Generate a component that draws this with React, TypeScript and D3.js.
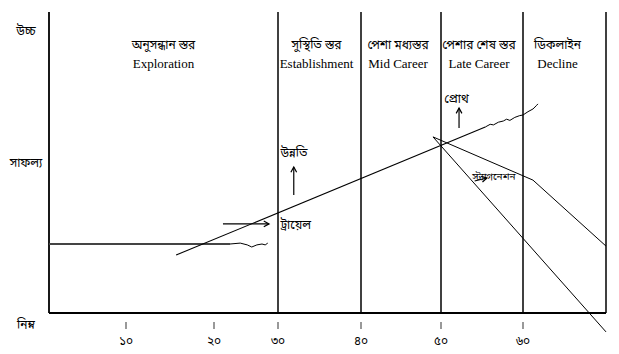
import React from "react";
import * as d3 from "d3";

// stages of a career (ages in years)
const stageBounds = [0, 30, 40, 50, 60, 70];
const stageNamesBn = ["অনুসন্ধান স্তর", "সুস্থিতি স্তর", "পেশা মধ্যস্তর", "পেশার শেষ স্তর", "ডিকলাইন"];
const stageNamesEn = ["Exploration", "Establishment", "Mid Career", "Late Career", "Decline"];

const ageTicks = [10, 20, 30, 40, 50, 60];
const ageTickLabels = ["১০", "২০", "৩০", "৪০", "৫০", "৬০"];

// success level labels (0 = low, 100 = high)
const levelValues = [94, 50, -4];
const levelLabels = ["উচ্চ", "সাফল্য", "নিম্ন"];

// [age, success]
const trialFlat: [number, number][] = [[0, 23], [22.5, 23]];
const trialWave: [number, number][] = [
  [22.5, 23], [24.1, 23.3], [25.2, 22.7], [25.9, 22], [26.7, 22.7], [27.5, 23], [28, 22.7], [28.4, 23.3],
];
const growthLine: [number, number][] = [[15.7, 19.3], [55.4, 62]];
const growthWave: [number, number][] = [
  [55.4, 62], [56, 62.9], [56.4, 62.7], [57, 63.6], [57.6, 64], [58, 64.6], [58.4, 64.2],
  [59, 65.2], [59.6, 65.8], [60, 66], [60.6, 67.1], [61.2, 68], [61.6, 69.1], [61.8, 69.7],
];
const stagnationLine: [number, number][] = [[49, 58.7], [61.2, 44.3], [70, 22.3]];
const declineLine: [number, number][] = [[49, 58.7], [70, -6.3]];

// arrows: from -> to
const arrows: { from: [number, number]; to: [number, number] }[] = [
  { from: [21.4, 29.7], to: [28.6, 29.7] },
  { from: [31.9, 39.3], to: [31.9, 48.7] },
  { from: [52.2, 61.7], to: [52.2, 68.3] },
  { from: [54.1, 44], to: [55.6, 45] },
];

const notes = [
  { text: "উন্নতি", age: 30.3, level: 52, size: 12 },
  { text: "ট্রায়েল", age: 30.3, level: 28, size: 12 },
  { text: "প্রোথ", age: 50.4, level: 70, size: 12 },
  { text: "স্ট্যাগনেশন", age: 53.8, level: 44.5, size: 10 },
];

const width = 619;
const height = 354;

const x = d3
  .scaleLinear()
  .domain([0, 10, 20, 30, 40, 50, 60, 70])
  .range([49, 126, 214, 278, 361, 441, 523, 606]);
const y = d3.scaleLinear().domain([0, 100]).range([313, 13]);

const line = d3
  .line<[number, number]>()
  .x((d) => x(d[0]))
  .y((d) => y(d[1]));

const bnFont = "'Noto Sans Bengali', 'Lohit Bengali', 'Noto Serif Bengali', serif";
const enFont = "'Liberation Serif', 'Times New Roman', serif";

function Arrow({ from, to }: { from: [number, number]; to: [number, number] }) {
  const x1 = x(from[0]);
  const y1 = y(from[1]);
  const x2 = x(to[0]);
  const y2 = y(to[1]);
  const a = Math.atan2(y2 - y1, x2 - x1);
  const h = 6;
  const p1 = [x2 - h * Math.cos(a - 0.5), y2 - h * Math.sin(a - 0.5)];
  const p2 = [x2 - h * Math.cos(a + 0.5), y2 - h * Math.sin(a + 0.5)];
  return (
    <g stroke="#000" strokeWidth={1.2} fill="none">
      <line x1={x1} y1={y1} x2={x2} y2={y2} />
      <path d={`M${p1[0]},${p1[1]}L${x2},${y2}L${p2[0]},${p2[1]}`} />
    </g>
  );
}

export default function App() {
  const top = y(100);
  const bottom = y(0);
  return (
    <svg
      width={width}
      height={height}
      style={{ position: "absolute", left: 0, top: 0, background: "#fff" }}
    >
      {/* frame: left axis + bottom axis */}
      <line x1={x(0)} y1={top - 1} x2={x(0)} y2={bottom} stroke="#000" strokeWidth={1.8} />
      <line x1={x(0)} y1={bottom} x2={x(70)} y2={bottom} stroke="#000" strokeWidth={1.8} />
      {stageBounds.slice(1).map((b) => (
        <line key={b} x1={x(b)} y1={top - 1} x2={x(b)} y2={bottom} stroke="#000" strokeWidth={1.5} />
      ))}

      {/* stage titles */}
      {stageNamesBn.map((name, i) => {
        const cx = (x(stageBounds[i]) + x(stageBounds[i + 1])) / 2 - (i === 4 ? 7 : i > 0 ? 3 : 0);
        return (
          <g key={name}>
            <text x={cx} y={y(88)} textAnchor="middle" fontFamily={bnFont} fontSize={12}>
              {name}
            </text>
            <text x={cx} y={y(81.7)} textAnchor="middle" fontFamily={enFont} fontSize={13}>
              {stageNamesEn[i]}
            </text>
          </g>
        );
      })}

      {/* level labels */}
      {levelLabels.map((t, i) => (
        <text
          key={t}
          x={26}
          y={y(levelValues[i])}
          dy="0.35em"
          textAnchor="middle"
          fontFamily={bnFont}
          fontSize={12}
        >
          {t}
        </text>
      ))}

      {/* age ticks */}
      {ageTicks.map((a, i) => (
        <g key={a} transform={`translate(${x(a)},0)`}>
          <line y1={322} y2={329} stroke="#555" strokeWidth={1.2} />
          <text y={345} textAnchor="middle" fontFamily={bnFont} fontSize={12}>
            {ageTickLabels[i]}
          </text>
        </g>
      ))}

      {/* curves */}
      <g fill="none" stroke="#000">
        <path d={line(trialFlat) ?? ""} stroke="#444" strokeWidth={1.8} />
        <path d={line(trialWave) ?? ""} strokeWidth={1} />
        <path d={line(growthLine) ?? ""} strokeWidth={1.1} />
        <path d={line(growthWave) ?? ""} strokeWidth={1} />
        <path d={line(stagnationLine) ?? ""} strokeWidth={1} />
        <path d={line(declineLine) ?? ""} strokeWidth={1} />
      </g>

      {arrows.map((a, i) => (
        <Arrow key={i} from={a.from} to={a.to} />
      ))}

      {notes.map((n) => (
        <text
          key={n.text}
          x={x(n.age)}
          y={y(n.level)}
          fontFamily={bnFont}
          fontSize={n.size}
        >
          {n.text}
        </text>
      ))}
    </svg>
  );
}
